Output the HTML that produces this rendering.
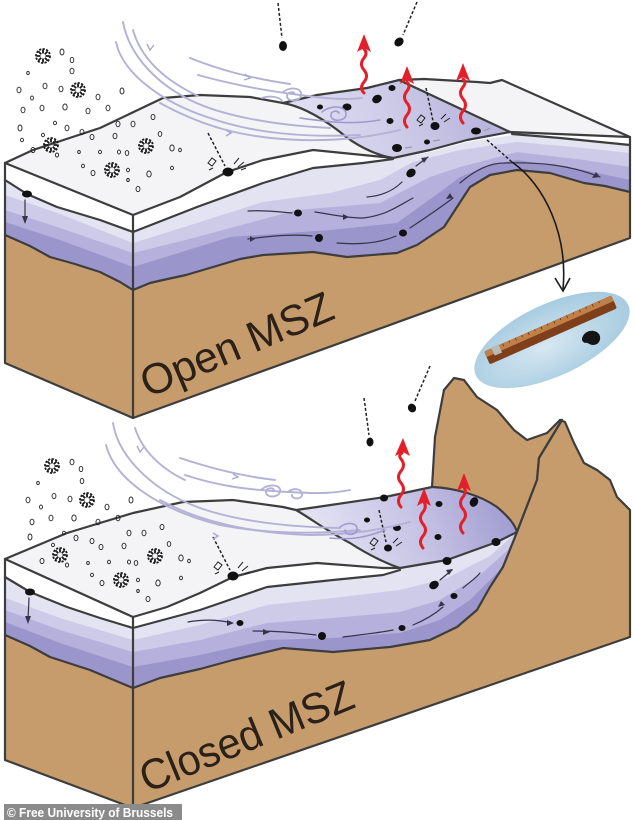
<!DOCTYPE html>
<html><head><meta charset="utf-8"><style>html,body{margin:0;padding:0;background:#fff}svg{display:block}</style></head>
<body>
<svg width="634" height="820" viewBox="0 0 634 820" xmlns="http://www.w3.org/2000/svg">
<defs>
<linearGradient id="pt" x1="300" y1="140" x2="470" y2="80" gradientUnits="userSpaceOnUse"><stop offset="0" stop-color="#e2e1f2"/><stop offset="0.45" stop-color="#d0cee9"/><stop offset="1" stop-color="#bab6de"/></linearGradient>
<linearGradient id="pb" x1="330" y1="560" x2="505" y2="490" gradientUnits="userSpaceOnUse"><stop offset="0" stop-color="#e2e1f2"/><stop offset="0.5" stop-color="#c6c3e5"/><stop offset="1" stop-color="#9f9bd0"/></linearGradient>
<radialGradient id="ph" cx="0.45" cy="0.55" r="0.6"><stop offset="0" stop-color="#d6e7f1"/><stop offset="1" stop-color="#a3c9df"/></radialGradient>
<g id="fl" stroke="#1a1a1a" stroke-width="1.8" fill="none"><circle r="7" stroke-dasharray="2.2 1.4"/><path d="M0,-2.5V-6.5M0,2.5V6.5M-2.5,0H-6.5M2.5,0H6.5M1.8,1.8L4.6,4.6M-1.8,-1.8L-4.6,-4.6M1.8,-1.8L4.6,-4.6M-1.8,1.8L-4.6,4.6"/></g>
</defs>
<rect width="634" height="820" fill="#fff"/>

<!-- ================= TOP BLOCK ================= -->
<polygon points="5,163 133,215 133,418 5,363" fill="#c69c6c"/>
<path d="M5,235 L30,246 L50,257 L75,264 L100,272 L120,282 L133,290 L133,215 L5,163Z" fill="#9a95cb"/>
<path d="M5,222 L60,240 L133,267 L133,215 L5,163Z" fill="#b5b1dc"/>
<path d="M5,210 L60,228 L133,253 L133,215 L5,163Z" fill="#cdcbe8"/>
<path d="M5,195 L60,214 L133,243 L133,215 L5,163Z" fill="#e4e3f2"/>
<path d="M5,180 L27,194 L57,207 L100,220 L133,232 L133,215 L5,163Z" fill="#fff"/>
<polygon points="133,215 180,197 227,172 263,160 313,150 363,155 393,158 430,150 467,140 510,132 630,137 630,238 133,418" fill="#c69c6c"/>
<path d="M133,290 L163,280 L186,275 L213,267 L263,255 L313,252 L347,257 L397,253 L417,245 L444,227 L457,207 L470,187 L490,175 L517,170 L550,173 L584,183 L630,192 L630,137 L510,132 L467,140 L430,150 L393,158 L363,155 L313,150 L263,160 L227,172 L180,197 L133,215Z" fill="#9a95cb"/>
<path d="M133,267 L230,237 L330,230 L397,223 L447,187 L460,177 L490,165 L517,160 L584,170 L630,180 L630,137 L510,132 L467,140 L430,150 L393,158 L363,155 L313,150 L263,160 L227,172 L180,197 L133,215Z" fill="#b5b1dc"/>
<path d="M133,253 L197,237 L297,210 L380,203 L430,177 L460,167 L517,152 L584,160 L630,167 L630,137 L510,132 L467,140 L430,150 L393,158 L363,155 L313,150 L263,160 L227,172 L180,197 L133,215Z" fill="#cdcbe8"/>
<path d="M133,243 L197,223 L263,202 L330,193 L380,180 L413,162 L460,150 L517,142 L584,148 L630,153 L630,137 L510,132 L467,140 L430,150 L393,158 L363,155 L313,150 L263,160 L227,172 L180,197 L133,215Z" fill="#e4e3f2"/>
<path d="M133,232 L197,207 L263,183 L313,168 L363,163 L393,159 L430,152 L467,142 L512,135 L630,145 L630,137 L510,132 L467,140 L430,150 L393,158 L363,155 L313,150 L263,160 L227,172 L180,197 L133,215Z" fill="#fff"/>
<polygon points="5,163 33,150 100,128 163,98 200,95 250,97 283,103 317,95 367,88 399,80 424,79 477,82 490,83 502,80 630,137 510,132 467,140 430,150 393,158 363,155 313,150 263,160 227,172 180,197 133,215" fill="#f4f4f6"/>
<path d="M283,103 L317,95 L367,88 L399,80 L510,132 L467,140 L430,150 L393,158 C375,155 355,145 340,132 C318,115 300,106 283,103Z" fill="url(#pt)"/>
<g fill="none" stroke="#3d3d3d" stroke-width="2.2" stroke-linejoin="round" stroke-linecap="round">
<path d="M5,163 L33,150 L100,128 L163,98 L200,95 L250,97 L283,103 L317,95 L367,88 L399,80 L424,79 L477,82 L490,83 L502,80 L630,137 L630,238 L133,418 L5,363 Z"/>
<path d="M5,163 L133,215 L133,418"/>
<path d="M133,215 L180,197 L227,172 L263,160 L313,150 L363,155 L393,158 L430,150 L467,140 L510,132 L630,137"/>
<path d="M5,180 L27,194 L57,207 L100,220 L133,232 L197,207 L263,183 L313,168 L363,163 L393,159"/>
<path d="M512,134 L560,138 L630,145"/>
<path d="M283,103 C300,106 318,115 340,132 C355,145 375,155 393,158"/>
<path d="M399,80 L510,132"/>
<path d="M5,235 L30,246 L50,257 L75,264 L100,272 L120,282 L133,290 L150,283 L163,280 L186,275 L213,267 L240,259 L263,255 L313,252 L347,257 L397,253 L417,245 L444,227 L457,207 L470,187 L490,175 L517,170 L550,173 L584,183 L605,186 L630,192"/>
</g>
<g fill="none" stroke="#35354a" stroke-width="1.2" stroke-linecap="round">
<path d="M248,211 C265,210 280,212 292,213"/>
<path d="M315,212 C330,214 345,218 363,218 C385,216 400,205 413,198"/>
<path d="M248,239 C270,236 295,234 312,236"/>
<path d="M337,243 C360,245 380,243 396,236"/>
<path d="M410,228 C425,218 440,208 453,198"/>
<path d="M367,197 C380,196 392,192 402,182"/>
<path d="M416,166 L428,157"/>
<path d="M460,183 C475,170 490,163 504,163 C540,162 570,165 600,177"/>
<path d="M25,200 L25,221"/>
</g>
<g fill="#35354a">
<polygon points="453,198 446,199 450,193"/><polygon points="600,177 592,178 596,172"/><polygon points="25,224 22,216 28,216"/><polygon points="428,157 424,163 421,158"/><polygon points="349,217 343,214 343,220"/><polygon points="255,239 250,236 250,242"/>
</g>
<g fill="#111">
<ellipse cx="27" cy="194" rx="5" ry="3.5"/>
<ellipse cx="298" cy="213" rx="4" ry="3.5"/>
<ellipse cx="319" cy="238" rx="4" ry="4"/>
<ellipse cx="403" cy="233" rx="4" ry="3.5"/>
<ellipse cx="411" cy="173" rx="5" ry="4" transform="rotate(-35 411 173)"/>
<ellipse cx="392" cy="88" rx="3.5" ry="3"/>
<ellipse cx="377" cy="99" rx="5" ry="4" transform="rotate(-30 377 99)"/>
<ellipse cx="347" cy="107" rx="4.5" ry="3.5"/>
<ellipse cx="320" cy="107" rx="3" ry="2.5"/>
<ellipse cx="390" cy="121" rx="3.5" ry="3"/>
<ellipse cx="435" cy="126" rx="4.5" ry="4"/>
<ellipse cx="476" cy="131" rx="5" ry="3.5"/>
<ellipse cx="397" cy="148" rx="5" ry="4"/>
<ellipse cx="427" cy="142" rx="3" ry="2.5"/>
<ellipse cx="228" cy="172" rx="5.5" ry="4.5"/>
<ellipse cx="283" cy="46" rx="4" ry="5"/>
<ellipse cx="399" cy="42" rx="5" ry="4" transform="rotate(-40 399 42)"/>
</g>
<g fill="none" stroke="#999" stroke-width="1.2"><path d="M405,148 L412,147 M433,141 L440,140 M484,131 L490,128"/></g>
<g fill="none" stroke="#222" stroke-width="1.5" stroke-dasharray="3 2">
<path d="M278,3 L282,38"/><path d="M417,2 L403,35"/>
<path d="M208,133 L225,166"/><path d="M426,88 L433,121"/>
<path d="M487,140 L512,162"/>
</g>
<g fill="none" stroke="#222" stroke-width="1">
<path d="M208,163 l4,-5 l4,3 l-4,5z M213,168 l-4,2"/><path d="M234,164 l5,-6 M238,167 l6,-5 M241,170 l5,-2"/>
<path d="M417,120 l4,-5 l4,3 l-4,5z M423,124 l-4,2"/><path d="M441,119 l5,-5 M444,122 l6,-4"/>
</g>

<!-- ================= BOTTOM BLOCK ================= -->
<polygon points="432,545 432,487 435,437 444,390 454,378 464,380 477,397 497,410 514,430 527,440 547,433 560,420 562,420 539,458 537,480 517,532" fill="#c69c6c" stroke="#3d3d3d" stroke-width="2.2" stroke-linejoin="round"/>
<polygon points="5,559 133,617 133,808 5,760" fill="#c69c6c"/>
<path d="M5,635 L30,646 L50,657 L90,670 L133,688 L133,617 L5,559Z" fill="#9a95cb"/>
<path d="M5,622 L60,643 L133,667 L133,617 L5,559Z" fill="#b5b1dc"/>
<path d="M5,610 L60,630 L133,652 L133,617 L5,559Z" fill="#cdcbe8"/>
<path d="M5,598 L60,618 L133,640 L133,617 L5,559Z" fill="#e4e3f2"/>
<path d="M5,577 L30,592 L67,607 L100,618 L133,628 L133,617 L5,559Z" fill="#fff"/>
<polygon points="133,617 167,607 200,593 233,577 267,568 317,563 383,568 400,568 447,560 497,542 517,532 537,480 539,458 562,420 565,422 574,443 584,463 597,470 610,480 617,497 630,510 630,637 133,808" fill="#c69c6c"/>
<path d="M133,688 L160,678 L200,669 L233,660 L283,648 L333,652 L390,647 L430,640 L457,627 L477,610 L490,587 L503,567 L517,532 L497,542 L447,560 L400,568 L383,568 L317,563 L267,568 L233,577 L200,593 L167,607 L133,617Z" fill="#9a95cb"/>
<path d="M133,667 L200,655 L267,640 L333,638 L400,633 L440,620 L470,600 L500,570 L517,532 L497,542 L447,560 L400,568 L383,568 L317,563 L267,568 L233,577 L200,593 L167,607 L133,617Z" fill="#b5b1dc"/>
<path d="M133,652 L200,640 L267,623 L333,618 L400,612 L440,600 L480,575 L508,550 L517,532 L497,542 L447,560 L400,568 L383,568 L317,563 L267,568 L233,577 L200,593 L167,607 L133,617Z" fill="#cdcbe8"/>
<path d="M133,640 L200,625 L267,605 L333,598 L400,590 L447,578 L490,556 L517,532 L497,542 L447,560 L400,568 L383,568 L317,563 L267,568 L233,577 L200,593 L167,607 L133,617Z" fill="#e4e3f2"/>
<path d="M133,628 L200,610 L267,587 L333,580 L383,575 L400,570 L400,568 L383,568 L317,563 L267,568 L233,577 L200,593 L167,607 L133,617Z" fill="#fff"/>
<polygon points="5,559 67,533 133,513 183,502 233,500 283,507 296,510 324,530 350,543 380,560 400,568 383,568 317,563 267,568 233,577 200,593 167,607 133,617" fill="#f4f4f6"/>
<path d="M296,510 L317,507 L385,497 L432,487 C455,488 480,495 497,507 C510,518 515,525 517,532 L497,542 L447,560 L400,568 C390,565 370,556 350,543 C330,533 310,518 296,510Z" fill="url(#pb)"/>
<g fill="none" stroke="#3d3d3d" stroke-width="2.2" stroke-linejoin="round" stroke-linecap="round">
<path d="M5,559 L67,533 L133,513 L183,502 L233,500 L283,507 L296,510 L317,507 L385,497 L432,487"/>
<path d="M432,487 C455,488 480,495 497,507 C510,518 515,525 517,532"/>
<path d="M5,559 L5,760 L133,808 L630,637 L630,510 L617,497 L610,480 L597,470 L584,463 L574,443 L565,422 L560,420"/>
<path d="M5,559 L133,617 L133,808"/>
<path d="M133,617 L167,607 L200,593 L233,577 L267,568 L317,563 L383,568 L400,568 L447,560 L497,542 L517,532"/>
<path d="M5,577 L30,592 L67,607 L100,618 L133,628 L200,610 L267,587 L333,580 L383,575 L400,570"/>
<path d="M296,510 C310,518 330,533 350,543 C370,556 390,565 400,568"/>
<path d="M517,532 L503,567 L490,587 L477,610 L457,627 L430,640 L390,647 L333,652 L283,648 L233,660 L200,669 L160,678 L133,688 L90,670 L50,657 L30,646 L5,635"/>
<path d="M517,532 L537,480 L539,458 L562,420"/>
</g>
<g fill="none" stroke="#35354a" stroke-width="1.2" stroke-linecap="round">
<path d="M188,622 C205,619 220,620 232,623"/>
<path d="M253,631 C280,631 300,633 316,635"/>
<path d="M343,637 C360,635 378,633 393,630"/>
<path d="M413,625 C425,620 435,614 443,607"/>
<path d="M440,580 L452,570"/>
<path d="M463,588 C470,582 476,578 480,573"/>
<path d="M29,598 L28,620"/>
</g>
<g fill="#35354a">
<polygon points="234,623 227,620 227,626"/><polygon points="270,632 263,629 263,635"/><polygon points="445,605 438,607 441,601"/><polygon points="453,569 449,575 446,570"/><polygon points="28,624 25,616 31,616"/>
</g>
<g fill="#111">
<ellipse cx="30" cy="592" rx="5" ry="3.5"/>
<ellipse cx="240" cy="623" rx="3.5" ry="3"/>
<ellipse cx="322" cy="636" rx="4" ry="4"/>
<ellipse cx="402" cy="628" rx="3.5" ry="3"/>
<ellipse cx="434" cy="585" rx="5" ry="4" transform="rotate(-30 434 585)"/>
<ellipse cx="454" cy="596" rx="3.5" ry="3"/>
<ellipse cx="384" cy="498" rx="4" ry="3.5"/>
<ellipse cx="439" cy="504" rx="3.5" ry="3"/>
<ellipse cx="474" cy="502" rx="4" ry="5" transform="rotate(30 474 502)"/>
<ellipse cx="367" cy="520" rx="3" ry="2.5"/>
<ellipse cx="397" cy="528" rx="4" ry="3"/>
<ellipse cx="438" cy="537" rx="3.5" ry="3"/>
<ellipse cx="388" cy="548" rx="4" ry="3.5"/>
<ellipse cx="447" cy="561" rx="4.5" ry="4"/>
<ellipse cx="496" cy="542" rx="4.5" ry="4"/>
<ellipse cx="233" cy="576" rx="5.5" ry="4.5"/>
<ellipse cx="370" cy="442" rx="3.5" ry="4.5"/>
<ellipse cx="412" cy="408" rx="4" ry="4.5" transform="rotate(-30 412 408)"/>
</g>
<g fill="none" stroke="#222" stroke-width="1.5" stroke-dasharray="3 2">
<path d="M364,398 L369,435"/><path d="M430,366 L415,401"/>
<path d="M213,537 L230,570"/><path d="M379,510 L386,542"/>
</g>
<g fill="none" stroke="#222" stroke-width="1">
<path d="M214,567 l4,-5 l4,3 l-4,5z M219,572 l-4,2"/><path d="M238,568 l5,-6 M242,571 l6,-5 M245,574 l5,-2"/>
<path d="M370,543 l4,-5 l4,3 l-4,5z M375,548 l-4,2"/><path d="M393,543 l5,-5 M396,546 l6,-4"/>
</g>

<!-- ================= WIND LINES ================= -->
<g fill="none" stroke="#b3b1d5" stroke-width="1.9" stroke-linecap="round">
<path d="M123,22 C128,50 150,80 190,100 C220,115 270,125 330,128"/>
<path d="M116,42 C122,72 160,102 210,118 C250,132 300,138 360,135"/>
<path d="M133,30 C140,55 160,78 198,96"/>
<path d="M190,58 C220,70 250,78 290,84"/>
<path d="M198,75 C230,84 260,90 300,95 C330,99 345,100 362,98"/>
<path d="M160,103 C200,125 240,138 300,140 C340,141 370,137 400,130"/>
<path d="M283,92 c8,-6 20,-4 18,4 c-2,6 -14,6 -14,0 c0,-4 6,-5 8,-2"/>
<path d="M262,98 c8,-3 18,-1 20,3"/>
<path d="M113,423 C118,455 150,490 200,508 C240,522 290,527 340,528"/>
<path d="M106,445 C115,480 160,510 220,525 C260,533 310,535 360,530"/>
<path d="M135,428 C142,450 160,468 185,480"/>
<path d="M180,458 C210,468 240,476 275,480"/>
<path d="M185,475 C215,485 245,490 290,492 C320,494 335,493 350,490"/>
<path d="M160,500 C200,522 250,533 310,535 C350,535 380,530 410,522"/>
<path d="M262,489 c8,-6 20,-4 18,3 c-2,6 -14,6 -14,0 c0,-4 6,-5 8,-2"/>
<path d="M288,492 c6,-5 15,-3 14,3 c-1,5 -11,4 -10,0"/>
</g>
<g fill="none" stroke="#9f9bd0" stroke-width="1.6" stroke-linecap="round">
<path d="M322,112 c10,-8 25,-6 24,3 c-1,7 -16,7 -15,0 c0,-4 6,-5 8,-2"/>
<path d="M300,118 C330,122 350,125 380,120"/>
<path d="M340,527 c8,-6 18,-4 17,3 c-1,6 -12,6 -12,0"/>
<path d="M330,538 C350,540 365,538 385,530"/>
</g>
<g fill="none" stroke="#a9a7cf" stroke-width="1.4"><path d="M147,44 l3,6 l4,-5 M245,74 l5,4 l-6,2 M226,130 l5,3 l-5,3 M137,446 l3,6 l4,-5 M233,474 l5,3 l-6,2 M213,533 l5,3 l-5,3"/></g>

<!-- ================= SNOW PARTICLES ================= -->
<g fill="none" stroke="#222" stroke-width="0.9">
<ellipse cx="62" cy="52" rx="2" ry="3"/><ellipse cx="72" cy="60" rx="1.8" ry="2.6"/><ellipse cx="72" cy="71" rx="2" ry="2.8"/><ellipse cx="28" cy="73" rx="1.3" ry="1.6"/><ellipse cx="45" cy="86" rx="2" ry="2.8"/><ellipse cx="61" cy="89" rx="2" ry="2.8"/><ellipse cx="19" cy="90" rx="2" ry="2.8"/><ellipse cx="32" cy="98" rx="1.5" ry="2"/><ellipse cx="98" cy="97" rx="2" ry="2.8"/><ellipse cx="122" cy="91" rx="2" ry="3"/><ellipse cx="23" cy="110" rx="2" ry="2.8"/><ellipse cx="42" cy="108" rx="2" ry="2.8"/><ellipse cx="65" cy="107" rx="2.2" ry="3"/><ellipse cx="88" cy="111" rx="2" ry="2.8"/><ellipse cx="108" cy="108" rx="2" ry="2.8"/><ellipse cx="20" cy="128" rx="2" ry="3"/><ellipse cx="55" cy="123" rx="1.5" ry="1.8"/><ellipse cx="67" cy="128" rx="2" ry="2.8"/><ellipse cx="118" cy="124" rx="2" ry="2.8"/><ellipse cx="133" cy="124" rx="2" ry="2.8"/><ellipse cx="153" cy="117" rx="2" ry="2.6"/><ellipse cx="22" cy="140" rx="1.5" ry="1.8"/><ellipse cx="43" cy="135" rx="1.5" ry="1.8"/><ellipse cx="82" cy="132" rx="2" ry="2.6"/><ellipse cx="92" cy="137" rx="2" ry="2.6"/><ellipse cx="115" cy="136" rx="2" ry="2.8"/><ellipse cx="160" cy="134" rx="1.8" ry="2.4"/><ellipse cx="33" cy="150" rx="2" ry="2.6"/><ellipse cx="57" cy="155" rx="1.6" ry="2"/><ellipse cx="79" cy="152" rx="1.3" ry="1.6"/><ellipse cx="100" cy="152" rx="1.5" ry="1.8"/><ellipse cx="119" cy="152" rx="1.5" ry="2"/><ellipse cx="127" cy="153" rx="1.8" ry="2.4"/><ellipse cx="172" cy="148" rx="2.2" ry="3"/><ellipse cx="180" cy="150" rx="1.4" ry="1.8"/><ellipse cx="83" cy="166" rx="1.5" ry="1.8"/><ellipse cx="93" cy="173" rx="2" ry="2.6"/><ellipse cx="128" cy="170" rx="1.5" ry="1.8"/><ellipse cx="128" cy="180" rx="1.3" ry="1.5"/><ellipse cx="149" cy="174" rx="2.2" ry="3"/><ellipse cx="172" cy="168" rx="1.5" ry="1.8"/><ellipse cx="138" cy="189" rx="2" ry="2.6"/>
<ellipse cx="72" cy="462" rx="2" ry="2.8"/><ellipse cx="81" cy="469" rx="1.8" ry="2.6"/><ellipse cx="82" cy="481" rx="1.8" ry="2.6"/><ellipse cx="38" cy="483" rx="1.3" ry="1.6"/><ellipse cx="54" cy="496" rx="2" ry="2.6"/><ellipse cx="70" cy="499" rx="2" ry="2.8"/><ellipse cx="28" cy="500" rx="2" ry="2.8"/><ellipse cx="41" cy="507" rx="1.5" ry="2"/><ellipse cx="107" cy="507" rx="2" ry="2.8"/><ellipse cx="131" cy="500" rx="2" ry="3"/><ellipse cx="32" cy="522" rx="2" ry="2.8"/><ellipse cx="51" cy="518" rx="2" ry="2.8"/><ellipse cx="74" cy="518" rx="2.2" ry="3"/><ellipse cx="98" cy="522" rx="2" ry="2.8"/><ellipse cx="118" cy="518" rx="2" ry="2.8"/><ellipse cx="30" cy="537" rx="2" ry="3"/><ellipse cx="64" cy="533" rx="1.5" ry="1.8"/><ellipse cx="76" cy="538" rx="2" ry="2.8"/><ellipse cx="129" cy="533" rx="2" ry="2.8"/><ellipse cx="144" cy="533" rx="2" ry="2.8"/><ellipse cx="162" cy="527" rx="2" ry="2.6"/><ellipse cx="53" cy="545" rx="1.5" ry="1.8"/><ellipse cx="92" cy="541" rx="2" ry="2.6"/><ellipse cx="101" cy="547" rx="2" ry="2.6"/><ellipse cx="124" cy="546" rx="2" ry="2.8"/><ellipse cx="169" cy="544" rx="1.8" ry="2.4"/><ellipse cx="42" cy="561" rx="2" ry="2.6"/><ellipse cx="67" cy="565" rx="1.6" ry="2"/><ellipse cx="88" cy="563" rx="1.3" ry="1.6"/><ellipse cx="109" cy="562" rx="1.5" ry="1.8"/><ellipse cx="129" cy="562" rx="1.5" ry="2"/><ellipse cx="136" cy="563" rx="1.8" ry="2.4"/><ellipse cx="181" cy="558" rx="2.2" ry="3"/><ellipse cx="189" cy="561" rx="1.4" ry="1.8"/><ellipse cx="92" cy="575" rx="1.5" ry="1.8"/><ellipse cx="102" cy="583" rx="2" ry="2.6"/><ellipse cx="138" cy="580" rx="1.5" ry="1.8"/><ellipse cx="138" cy="591" rx="1.3" ry="1.5"/><ellipse cx="158" cy="583" rx="2.2" ry="3"/><ellipse cx="181" cy="578" rx="1.5" ry="1.8"/><ellipse cx="148" cy="599" rx="2" ry="2.6"/>
</g>
<use href="#fl" x="43" y="56"/><use href="#fl" x="78" y="90"/><use href="#fl" x="51" y="145"/><use href="#fl" x="146" y="146"/><use href="#fl" x="112" y="170"/>
<use href="#fl" x="52" y="466"/><use href="#fl" x="87" y="500"/><use href="#fl" x="60" y="555"/><use href="#fl" x="155" y="556"/><use href="#fl" x="121" y="580"/>

<!-- ================= RED ARROWS ================= -->
<g fill="none" stroke="#e3202a" stroke-width="3" stroke-linecap="round">
<path d="M364,93 q-5,-5 0,-11 q5,-6 0,-12 q-5,-6 0,-12 q4,-5 0,-9"/>
<path d="M407,127 q-5,-6 0,-12 q5,-6 0,-12 q-5,-6 0,-12 q4,-5 0,-9"/>
<path d="M463,123 q-5,-6 0,-12 q5,-6 0,-12 q-5,-6 0,-12 q4,-5 0,-8"/>
<path d="M401,507 q-5,-6 0,-12 q5,-6 0,-12 q-5,-6 0,-12 q5,-6 0,-12 q-3,-4 1,-6"/>
<path d="M423,548 q-5,-6 0,-12 q5,-6 0,-12 q-5,-6 0,-12 q4,-5 1,-10"/>
<path d="M463,533 q-5,-6 0,-12 q5,-6 0,-12 q-5,-6 0,-12 q4,-5 1,-10"/>
</g>
<g fill="#e3202a">
<polygon points="357,52 364,34 371,52 364,48"/>
<polygon points="400,84 407,66 414,84 407,80"/>
<polygon points="456,81 463,63 470,81 463,77"/>
<polygon points="395,456 403,438 410,456 403,452"/>
<polygon points="417,506 424,488 431,506 424,502"/>
<polygon points="457,491 464,473 471,491 464,487"/>
</g>

<!-- ================= CURVED ARROW + PHOTO ================= -->
<path d="M512,162 C545,185 568,235 563,289" fill="none" stroke="#1a1a1a" stroke-width="1.6"/>
<path d="M555,278 L563,291 L570,278" fill="none" stroke="#1a1a1a" stroke-width="1.6"/>
<ellipse cx="552" cy="340" rx="84" ry="36" transform="rotate(-25 552 340)" fill="url(#ph)"/>
<g transform="translate(487,358) rotate(-23.8)">
<rect x="0" y="-7" width="139" height="14" rx="2" fill="#7e3f1a"/>
<rect x="0" y="-7" width="139" height="6" fill="#c08048"/>
<path d="M20,-7v3M27,-7v2M34,-7v3M41,-7v2M48,-7v3M55,-7v2M62,-7v3M69,-7v2M76,-7v3M83,-7v2M90,-7v3M97,-7v2M104,-7v3M111,-7v2M118,-7v3M125,-7v2" stroke="#5a2a10" stroke-width="0.7"/>
<rect x="8" y="-8" width="8" height="9" fill="#b9b9b9"/>
</g>
<path d="M583,336 c3,-6 12,-7 16,-2 c3,5 0,11 -6,11 c-4,0 -5,-3 -8,-2 c-3,-1 -4,-4 -2,-7z" fill="#151515"/>

<!-- ================= TEXT ================= -->
<text transform="translate(148,398) rotate(-23)" font-family="Liberation Sans, sans-serif" font-size="43" fill="#2b2118" textLength="205" lengthAdjust="spacingAndGlyphs">Open MSZ</text>
<text transform="translate(147,793) rotate(-22.3)" font-family="Liberation Sans, sans-serif" font-size="43" fill="#2b2118" textLength="227" lengthAdjust="spacingAndGlyphs">Closed MSZ</text>

<rect x="4" y="804" width="178" height="16" fill="#8b8b8b"/>
<text x="7" y="817" font-family="Liberation Sans, sans-serif" font-size="13" font-weight="bold" fill="#ffffff" textLength="166" lengthAdjust="spacingAndGlyphs">© Free University of Brussels</text>
</svg>
</body></html>
